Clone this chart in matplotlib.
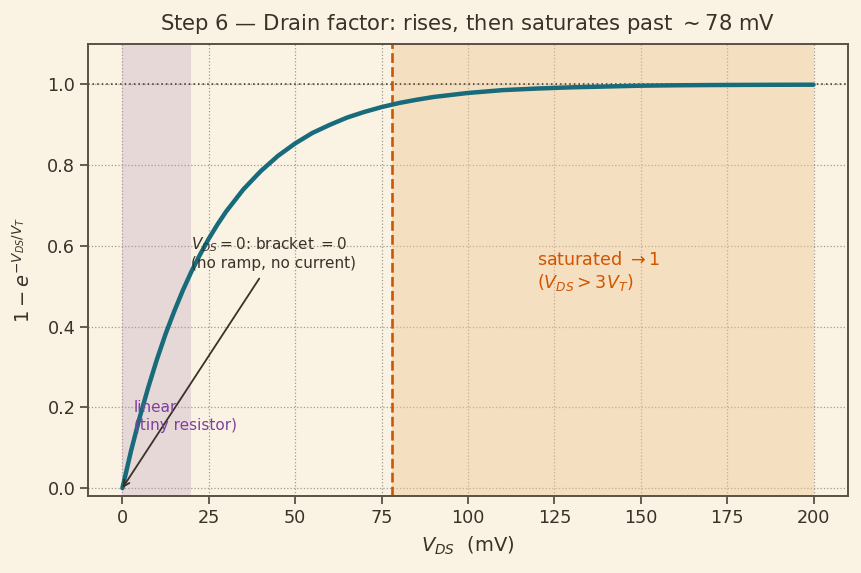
import matplotlib
matplotlib.use("Agg")
import matplotlib.pyplot as plt

# V_DS in mV and the drain factor
v_ds = [0, 2.5, 5, 7.5, 10, 12.5, 15, 17.5, 20, 22.5, 25, 27.5, 30, 35, 40, 45, 50, 55, 60,
        65, 70, 75, 80, 85, 90, 95, 100, 110, 120, 130, 140, 150, 160, 170, 180, 190, 200]
factor = [0.0, 0.092, 0.175, 0.250, 0.319, 0.382, 0.438, 0.490, 0.537, 0.579, 0.618, 0.653,
          0.685, 0.740, 0.785, 0.823, 0.854, 0.880, 0.900, 0.918, 0.932, 0.944, 0.954,
          0.962, 0.969, 0.974, 0.979, 0.986, 0.990, 0.993, 0.995, 0.997, 0.998, 0.9986,
          0.9990, 0.9993, 0.9995]
v_sat = 78
linear_span = [0, 20]
sat_span = [78, 200]

bg = "#faf3e3"
ink = "#3a3129"
plt.rcParams['font.family'] = ['DejaVu Sans']

fig = plt.figure(figsize=(8.61, 5.73), dpi=100, facecolor=bg)
ax = fig.add_axes([0.102, 0.134, 0.883, 0.789], facecolor=bg)

ax.axvspan(*linear_span, color="#b89ab8", alpha=0.3, lw=0)
ax.axvspan(*sat_span, color="#f0c898", alpha=0.45, lw=0)
ax.axhline(1.0, color=ink, ls=(0, (1, 2)), lw=1.1)
ax.axvline(v_sat, color="#d35400", ls="--", lw=1.9)
ax.plot(v_ds, factor, color="#176b7a", lw=3.2, solid_capstyle="round", solid_joinstyle="round")

ax.set_xlim(-10, 210)
ax.set_ylim(-0.02, 1.1)
ax.set_xticks([0, 25, 50, 75, 100, 125, 150, 175, 200])
ax.set_yticks([0.0, 0.2, 0.4, 0.6, 0.8, 1.0])
ax.grid(True, ls=":", color="#a09a90", lw=0.9)
ax.set_axisbelow(True)

for s in ax.spines.values():
    s.set_color("#5a5046")
    s.set_linewidth(1.4)
ax.tick_params(colors=ink, labelsize=12.7, length=5.5, width=1.3, color="#5a5046")

ax.set_title("Step 6 — Drain factor: rises, then saturates past $\\sim78$ mV",
             fontsize=15.2, color=ink, pad=10)
ax.set_xlabel("$V_{DS}$  (mV)", fontsize=14, color=ink, labelpad=6)
ax.set_ylabel("$1 - e^{-V_{DS}/V_T}$", fontsize=14, color=ink, labelpad=10)

ax.annotate("$V_{DS}=0$: bracket $=0$\n(no ramp, no current)",
            xy=(0, 0), xytext=(20, 0.545), fontsize=11, color=ink,
            arrowprops=dict(arrowstyle="->", color=ink, lw=1.3,
                            relpos=(0.44, 0.0), shrinkA=4, shrinkB=0))
ax.text(3.3, 0.145, "linear\n(tiny resistor)", fontsize=11, color="#8040a0")
ax.text(120, 0.495, "saturated $\\to 1$\n($V_{DS} > 3V_T$)", fontsize=12.6, color="#d35400")

fig.savefig("out.png", dpi=100, facecolor=bg)
